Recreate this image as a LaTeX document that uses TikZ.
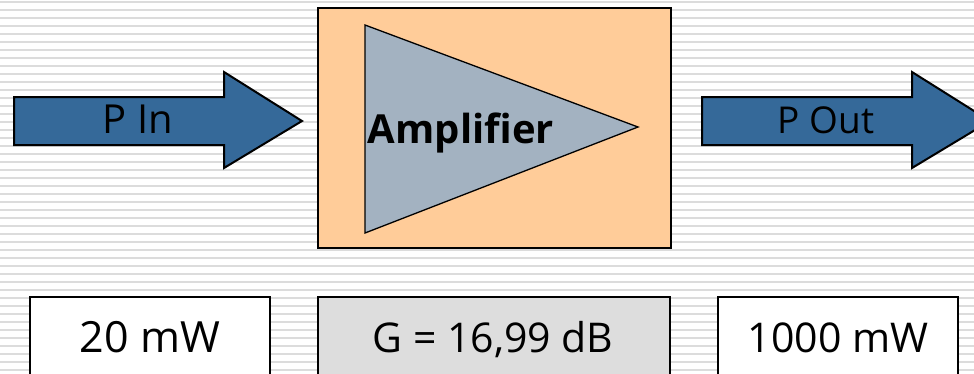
\documentclass[tikz,border=0pt]{standalone}
\usepackage{fontspec}
\setmainfont{Open Sans}
\definecolor{arrowblue}{HTML}{356999}
\definecolor{boxorange}{HTML}{FFCC99}
\definecolor{triblue}{HTML}{A3B2C1}
\definecolor{boxgray}{HTML}{DDDDDD}
\definecolor{stripe}{HTML}{DCDCDC}
\begin{document}
\begin{tikzpicture}[x=1pt,y=-1pt,
  outl/.style={draw=black,line width=2pt,line join=miter},
  bigarrow/.style={outl,fill=arrowblue},
  labeltxt/.style={inner sep=0pt,anchor=base,text=black},
  valbox/.style={outl}]
\useasboundingbox (0,0) rectangle (974,373);
\clip (0,0) rectangle (974,373);
\fill[white] (0,0) rectangle (974,373);
% striped background
\foreach \k in {0,...,46}
  \fill[stripe] (0,{0.7+8*\k}) rectangle (974,{2.7+8*\k});
% input arrow
\draw[bigarrow] (14,97) -- (224,97) -- (224,72) -- (302,121) -- (224,168) -- (224,145) -- (14,145) -- cycle;
\node[labeltxt,font=\fontsize{40}{48}\selectfont] (pin) at (138,133) {P In};
% output arrow
\draw[bigarrow] (702,97) -- (912,97) -- (912,72) -- (990,121) -- (912,168) -- (912,145) -- (702,145) -- cycle;
\node[labeltxt,font=\fontsize{37}{44}\selectfont] (pout) at (826,133) {P Out};
% amplifier block
\draw[outl,fill=boxorange] (318,8) rectangle (671,248);
\draw[draw=black,line width=1.3pt,fill=triblue,line join=miter] (365,25) -- (638,127) -- (365,233) -- cycle;
\node[labeltxt,font=\fontsize{40}{48}\selectfont\bfseries] (amp) at (461,143) {Amplifier};
% value boxes
\draw[valbox,fill=white] (30,297) rectangle (270,390);
\draw[valbox,fill=boxgray] (318,297) rectangle (670,390);
\draw[valbox,fill=white] (718,297) rectangle (958,390);
\node[labeltxt,font=\fontsize{43}{52}\selectfont] (vin) at (150,352) {20 mW};
\node[labeltxt,font=\fontsize{41}{50}\selectfont] (vg) at (493,352) {G = 16,99 dB};
\node[labeltxt,font=\fontsize{41}{50}\selectfont] (vout) at (838,352) {1000 mW};
\end{tikzpicture}
\end{document}
